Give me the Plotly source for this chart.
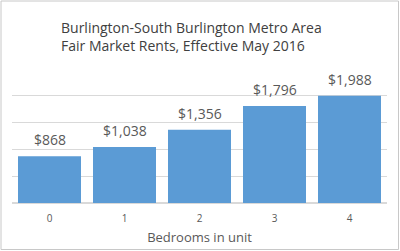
import plotly.graph_objects as go

categories = ["0", "1", "2", "3", "4"]
rents = [868, 1038, 1356, 1796, 1988]
labels = ["$868", "$1,038", "$1,356", "$1,796", "$1,988"]
title_lines = ["Burlington-South Burlington Metro Area", "Fair Market Rents, Effective May 2016"]
x_title = "Bedrooms in unit"

W, H = 400, 251
ml, mr, mt, mb = 12, 13, 68, 48
pw, ph = W - ml - mr, H - mt - mb

fig = go.Figure()
fig.add_trace(go.Bar(
    x=categories, y=rents,
    marker=dict(color="#5B9BD5", line=dict(width=0)),
    cliponaxis=False,
))

for c, v, t in zip(categories, rents, labels):
    fig.add_annotation(x=c, y=v, text=t, showarrow=False, yanchor="bottom",
                       yshift=5, font=dict(family="Open Sans", size=14, color="#595959"))

fig.update_layout(
    width=W, height=H,
    margin=dict(l=ml, r=mr, t=mt, b=mb, pad=0, autoexpand=False),
    paper_bgcolor="white", plot_bgcolor="white",
    bargap=0.16, showlegend=False,
    font=dict(family="Open Sans", color="#595959"),
    xaxis=dict(showgrid=False, showline=False, ticks="", zeroline=False, automargin=False,
               tickfont=dict(size=10, color="#595959"), ticklabelstandoff=8,
               title=dict(text=x_title, font=dict(size=13, color="#595959"), standoff=8)),
    yaxis=dict(range=[0, 2500], dtick=500, showticklabels=False, showgrid=True, automargin=False,
               gridcolor="#D9D9D9", gridwidth=1, zeroline=True, zerolinecolor="#D9D9D9",
               showline=False, ticks=""),
)

fig.add_annotation(
    text="<br>".join(title_lines), xref="paper", yref="paper",
    x=(59 - ml) / pw, y=1 + (mt - 16) / ph, xanchor="left", yanchor="top",
    showarrow=False, align="left",
    font=dict(family="Open Sans", size=14, color="#404040"),
)

fig.add_shape(type="rect", xref="paper", yref="paper",
              x0=(1 - ml) / pw, x1=(W - 1.5 - ml) / pw,
              y0=-(mb - 1.5) / ph, y1=1 + (mt - 1) / ph,
              line=dict(color="#C8C8C8", width=1), fillcolor="rgba(0,0,0,0)", layer="below")

fig.write_html("out.html")
